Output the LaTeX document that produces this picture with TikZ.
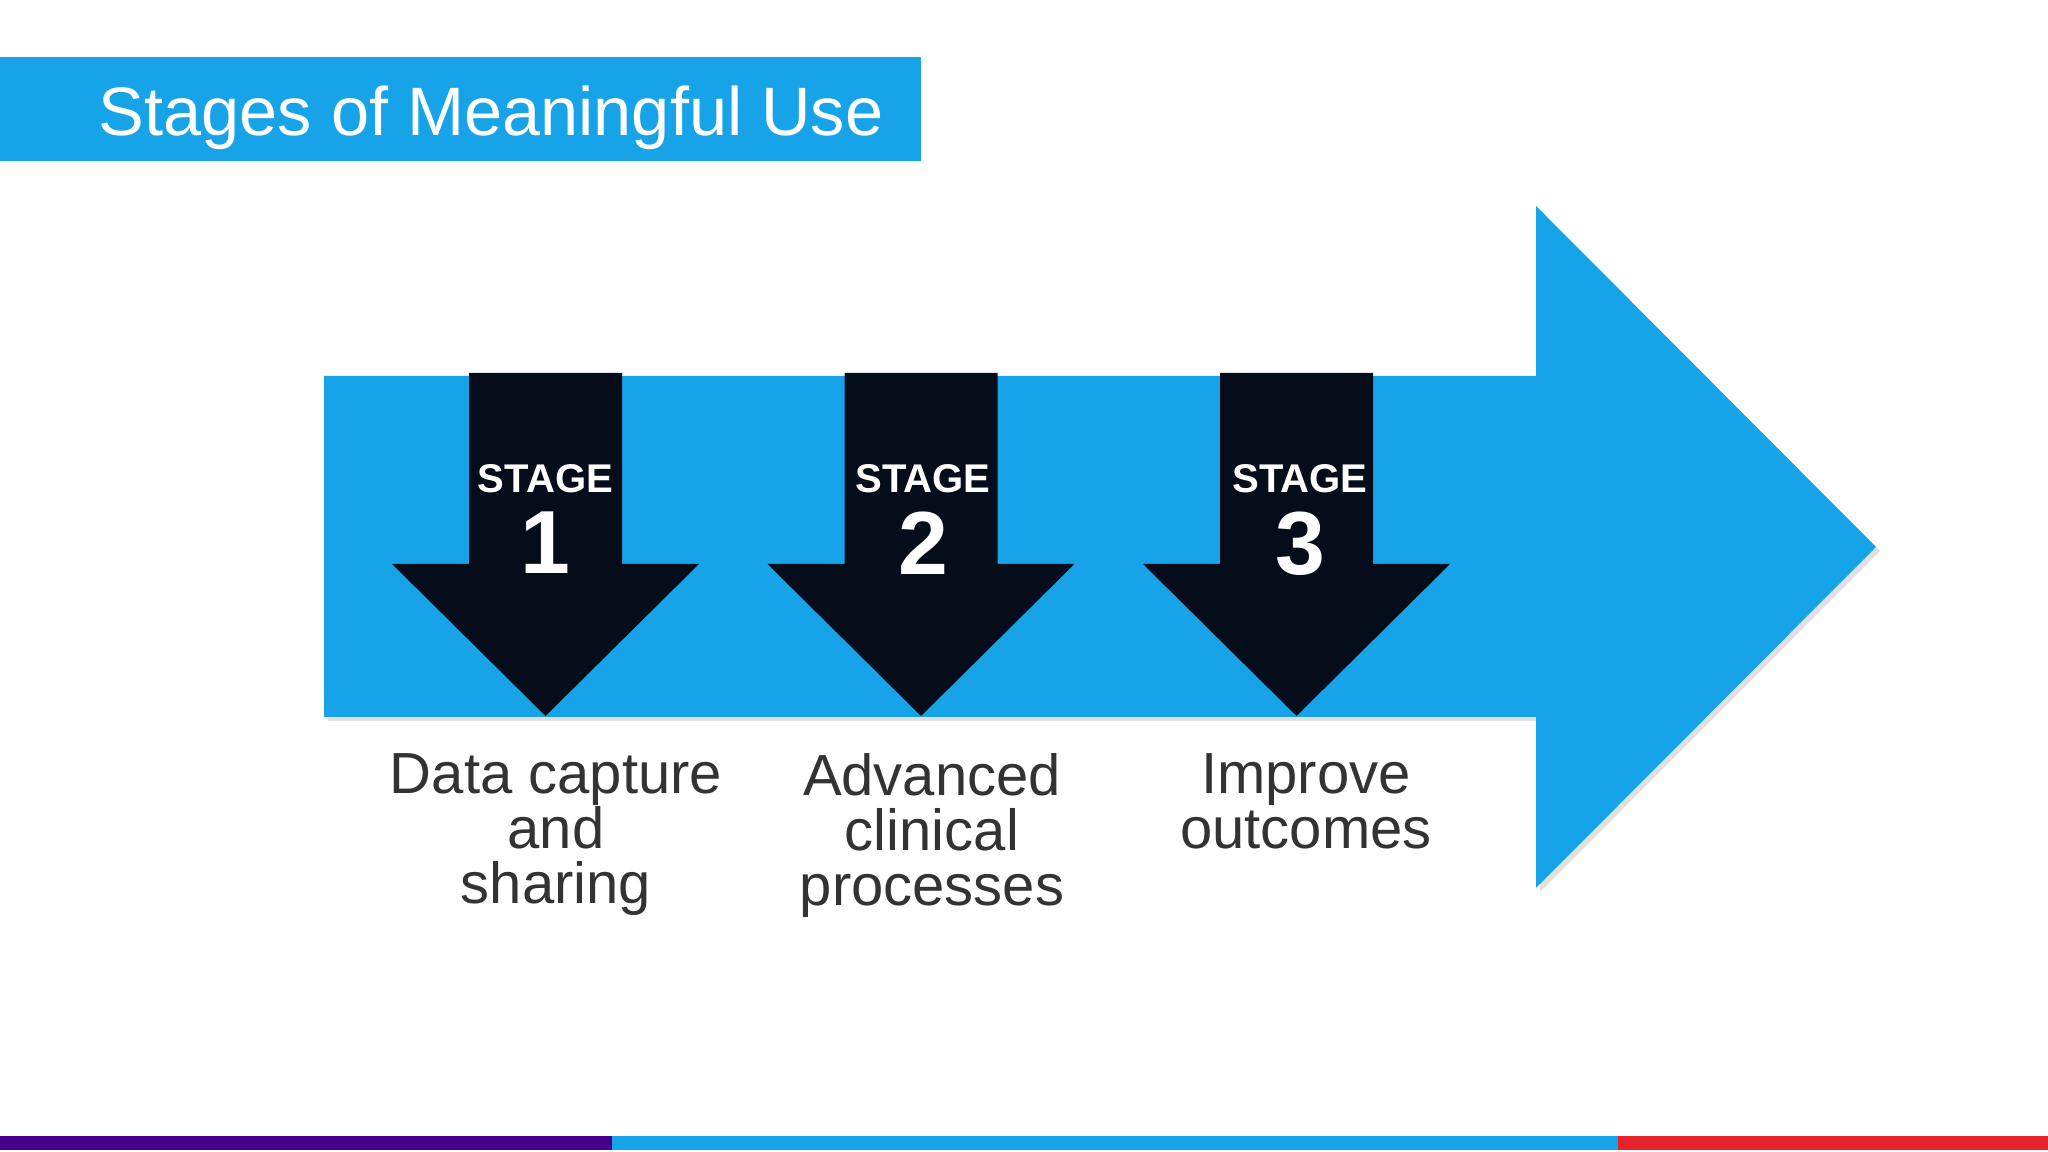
\documentclass[tikz,border=0pt]{standalone}
\usepackage{fontspec}
\setmainfont{Liberation Sans}
\usepackage{tikz}
\usetikzlibrary{positioning}
\definecolor{slideblue}{HTML}{16A3E8}
\definecolor{darknavy}{HTML}{050D1A}
\definecolor{textgray}{HTML}{333333}
\definecolor{barpurple}{HTML}{46008C}
\definecolor{barred}{HTML}{E52229}

\tikzset{
  stagetext/.style={white, inner sep=0pt, font=\bfseries\fontsize{11.4}{12}\selectfont},
  stagenum/.style={white, inner sep=0pt, font=\bfseries\fontsize{25.5}{27}\selectfont},
  stagelabel/.style={textgray, align=center, anchor=north, inner sep=0pt, font=\fontsize{16.5}{15.6}\selectfont},
}

\begin{document}
\begin{tikzpicture}
        \useasboundingbox (0,0) rectangle (20.48,11.52);
        \fill[white] (0,0) rectangle (20.48,11.52);
        % Titelbalken
        \fill[slideblue] (0,9.91) rectangle (9.21,10.95);
        \node[white, anchor=base west, inner sep=0pt, font=\fontsize{19.5}{22}\selectfont] (title) at (0.98,10.16) {Stages of Meaningful Use};
        % grosser Pfeil
        \fill[black, opacity=0.12] (3.28,7.72)--(15.40,7.72)--(15.40,9.42)--(18.80,6.01)--(15.40,2.60)--(15.40,4.31)--(3.28,4.31)--cycle;
        \fill[slideblue] (3.24,7.76)--(15.36,7.76)--(15.36,9.46)--(18.76,6.05)--(15.36,2.64)--(15.36,4.35)--(3.24,4.35)--cycle;
        % Stufe 1
        \fill[darknavy, shift={(5.455,0)}] (-0.765,7.79)--(0.765,7.79)--(0.765,5.88)--(1.535,5.88)--(0,4.36)--(-1.535,5.88)--(-0.765,5.88)--cycle;
        \node[stagetext] (stage1) at (5.455,6.73) {STAGE};
        \node[stagenum, below=0.17cm of stage1] (num1) {1};
        \node[stagelabel] (label1) at (5.56,3.99) {Data capture\\and\\sharing};
        % Stufe 2
        \fill[darknavy, shift={(9.21,0)}] (-0.765,7.79)--(0.765,7.79)--(0.765,5.88)--(1.535,5.88)--(0,4.36)--(-1.535,5.88)--(-0.765,5.88)--cycle;
        \node[stagetext] (stage2) at (9.23,6.73) {STAGE};
        \node[stagenum, below=0.17cm of stage2] (num2) {2};
        \node[stagelabel] (label2) at (9.32,3.99) {Advanced\\clinical\\processes};
        % Stufe 3
        \fill[darknavy, shift={(12.965,0)}] (-0.765,7.79)--(0.765,7.79)--(0.765,5.88)--(1.535,5.88)--(0,4.36)--(-1.535,5.88)--(-0.765,5.88)--cycle;
        \node[stagetext] (stage3) at (13.0,6.73) {STAGE};
        \node[stagenum, below=0.17cm of stage3] (num3) {3};
        \node[stagelabel] (label3) at (13.06,3.99) {Improve\\outcomes};
        % Farbleiste unten
        \fill[barpurple] (0,0.02) rectangle (6.12,0.16);
        \fill[slideblue] (6.12,0.02) rectangle (16.18,0.16);
        \fill[barred] (16.18,0.02) rectangle (20.48,0.16);
      \end{tikzpicture}
\end{document}
